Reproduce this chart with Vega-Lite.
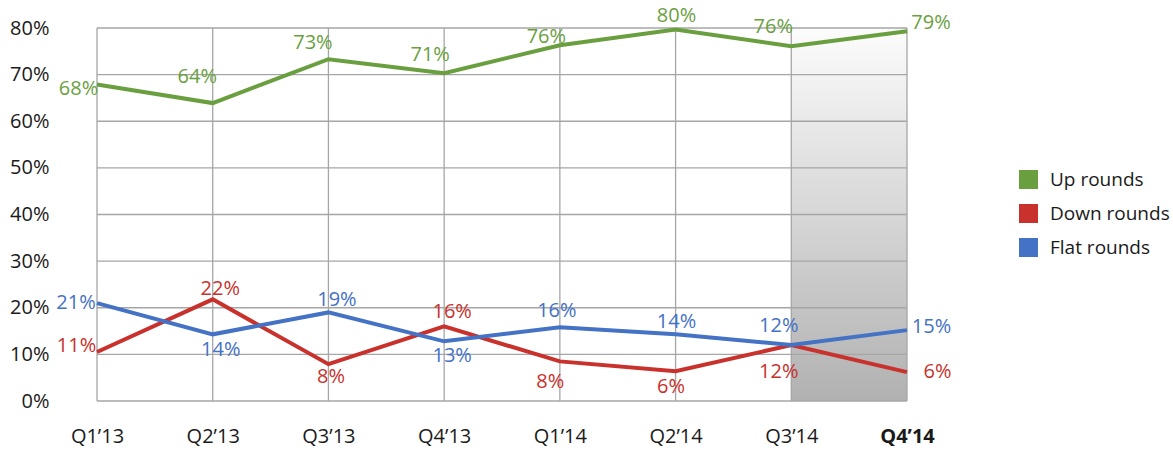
{
  "$schema": "https://vega.github.io/schema/vega-lite/v6.json",
  "width": 810,
  "height": 373,
  "autosize": "none",
  "padding": {"left": 97, "top": 28, "right": 266, "bottom": 53},
  "background": "white",
  "config": {"view": {"stroke": null}, "font": "Open Sans"},
  "datasets": {
    "main": [
      {"q": "Q1’13", "s": "Up rounds", "v": 67.9, "label": "68%"},
      {"q": "Q2’13", "s": "Up rounds", "v": 63.9, "label": "64%"},
      {"q": "Q3’13", "s": "Up rounds", "v": 73.3, "label": "73%"},
      {"q": "Q4’13", "s": "Up rounds", "v": 70.3, "label": "71%"},
      {"q": "Q1’14", "s": "Up rounds", "v": 76.3, "label": "76%"},
      {"q": "Q2’14", "s": "Up rounds", "v": 79.7, "label": "80%"},
      {"q": "Q3’14", "s": "Up rounds", "v": 76.1, "label": "76%"},
      {"q": "Q4’14", "s": "Up rounds", "v": 79.3, "label": "79%"},
      {"q": "Q1’13", "s": "Down rounds", "v": 10.5, "label": "11%"},
      {"q": "Q2’13", "s": "Down rounds", "v": 21.8, "label": "22%"},
      {"q": "Q3’13", "s": "Down rounds", "v": 7.9, "label": "8%"},
      {"q": "Q4’13", "s": "Down rounds", "v": 16.0, "label": "16%"},
      {"q": "Q1’14", "s": "Down rounds", "v": 8.5, "label": "8%"},
      {"q": "Q2’14", "s": "Down rounds", "v": 6.4, "label": "6%"},
      {"q": "Q3’14", "s": "Down rounds", "v": 12.0, "label": "12%"},
      {"q": "Q4’14", "s": "Down rounds", "v": 6.2, "label": "6%"},
      {"q": "Q1’13", "s": "Flat rounds", "v": 21.0, "label": "21%"},
      {"q": "Q2’13", "s": "Flat rounds", "v": 14.3, "label": "14%"},
      {"q": "Q3’13", "s": "Flat rounds", "v": 19.0, "label": "19%"},
      {"q": "Q4’13", "s": "Flat rounds", "v": 12.8, "label": "13%"},
      {"q": "Q1’14", "s": "Flat rounds", "v": 15.8, "label": "16%"},
      {"q": "Q2’14", "s": "Flat rounds", "v": 14.3, "label": "14%"},
      {"q": "Q3’14", "s": "Flat rounds", "v": 12.0, "label": "12%"},
      {"q": "Q4’14", "s": "Flat rounds", "v": 15.2, "label": "15%"}
    ],
    "yt": [{"t": 0}, {"t": 10}, {"t": 20}, {"t": 30}, {"t": 40}, {"t": 50}, {"t": 60}, {"t": 70}, {"t": 80}],
    "band": [{"a": "Q3’14", "b": "Q4’14"}]
  },
  "layer": [
    {
      "data": {"name": "band"},
      "mark": {"type": "rect", "color": {"gradient": "linear", "x1": 0, "y1": 0, "x2": 0, "y2": 1, "stops": [{"offset": 0, "color": "#fcfcfc"}, {"offset": 1, "color": "#b1b1b2"}]}},
      "encoding": {
        "x": {"field": "a", "type": "ordinal", "scale": {"type": "point", "padding": 0, "domain": ["Q1’13", "Q2’13", "Q3’13", "Q4’13", "Q1’14", "Q2’14", "Q3’14", "Q4’14"]},
          "axis": {"title": null, "domain": false, "ticks": false, "grid": false, "labelAngle": 0, "labelFontSize": 20, "labelColor": "#1a1a1a", "labelPadding": 25,
            "labelFontWeight": {"condition": {"test": "datum.value === 'Q4’14'", "value": "bold"}, "value": "normal"}}},
        "x2": {"field": "b"},
        "y": {"datum": 0, "type": "quantitative", "scale": {"domain": [0, 80], "nice": false},
          "axis": {"title": null, "values": [0, 10, 20, 30, 40, 50, 60, 70, 80], "domain": false, "ticks": false, "grid": false, "labelExpr": "datum.value + '%'", "labelFontSize": 20, "labelColor": "#1a1a1a", "labelPadding": 48}},
        "y2": {"datum": 80}
      }
    },
    {
      "data": {"name": "yt"},
      "mark": {"type": "rule", "color": "#a6a6a6", "strokeWidth": 1.3},
      "encoding": {
        "y": {"field": "t", "type": "quantitative", "scale": {"domain": [0, 80], "nice": false}}
      }
    },
    {
      "data": {"name": "main"},
      "transform": [{"filter": "datum.s == 'Up rounds'"}],
      "mark": {"type": "rule", "color": "#a6a6a6", "strokeWidth": 1.3},
      "encoding": {
        "x": {"field": "q", "type": "ordinal", "scale": {"type": "point", "padding": 0, "domain": ["Q1’13", "Q2’13", "Q3’13", "Q4’13", "Q1’14", "Q2’14", "Q3’14", "Q4’14"]}}
      }
    },
    {
      "data": {"name": "main"},
      "mark": {"type": "line", "strokeWidth": 4},
      "encoding": {
        "x": {"field": "q", "type": "ordinal", "scale": {"type": "point", "padding": 0, "domain": ["Q1’13", "Q2’13", "Q3’13", "Q4’13", "Q1’14", "Q2’14", "Q3’14", "Q4’14"]}},
        "y": {"field": "v", "type": "quantitative", "scale": {"domain": [0, 80], "nice": false}},
        "color": {"field": "s", "type": "nominal",
          "scale": {"domain": ["Up rounds", "Down rounds", "Flat rounds"], "range": ["#6a9f3f", "#c8312c", "#4472c4"]},
          "legend": {"title": null, "orient": "none", "legendX": 922, "legendY": 142, "padding": 0, "symbolType": "square", "symbolSize": 361, "symbolStrokeWidth": 0,
            "labelFontSize": 19, "labelColor": "#1a1a1a", "labelOffset": 12, "rowPadding": 14,
            "encode": {"symbols": {"update": {"fill": {"scale": "color", "field": "value"}, "fillOpacity": {"value": 1}, "stroke": {"value": "transparent"}}}}}}
      }
    },
    {
      "data": {"name": "main"},
      "encoding": {
        "x": {"field": "q", "type": "ordinal", "scale": {"type": "point", "padding": 0, "domain": ["Q1’13", "Q2’13", "Q3’13", "Q4’13", "Q1’14", "Q2’14", "Q3’14", "Q4’14"]}},
        "y": {"field": "v", "type": "quantitative", "scale": {"domain": [0, 80], "nice": false}},
        "text": {"field": "label"}
      },
      "layer": [
        {"transform": [{"filter": "datum.s=='Up rounds' && datum.q=='Q1’13'"}], "mark": {"type": "text", "fontSize": 20, "color": "#6a9f3f", "dx": -18.5, "dy": 4.5}},
        {"transform": [{"filter": "datum.s=='Up rounds' && datum.q=='Q2’13'"}], "mark": {"type": "text", "fontSize": 20, "color": "#6a9f3f", "dx": -15.5, "dy": -26.5}},
        {"transform": [{"filter": "datum.s=='Up rounds' && datum.q=='Q3’13'"}], "mark": {"type": "text", "fontSize": 20, "color": "#6a9f3f", "dx": -15.5, "dy": -16.5}},
        {"transform": [{"filter": "datum.s=='Up rounds' && datum.q=='Q4’13'"}], "mark": {"type": "text", "fontSize": 20, "color": "#6a9f3f", "dx": -14, "dy": -18}},
        {"transform": [{"filter": "datum.s=='Up rounds' && datum.q=='Q1’14'"}], "mark": {"type": "text", "fontSize": 20, "color": "#6a9f3f", "dx": -13.5, "dy": -8.5}},
        {"transform": [{"filter": "datum.s=='Up rounds' && datum.q=='Q2’14'"}], "mark": {"type": "text", "fontSize": 20, "color": "#6a9f3f", "dx": 1, "dy": -13.5}},
        {"transform": [{"filter": "datum.s=='Up rounds' && datum.q=='Q3’14'"}], "mark": {"type": "text", "fontSize": 20, "color": "#6a9f3f", "dx": -18, "dy": -18.7}},
        {"transform": [{"filter": "datum.s=='Up rounds' && datum.q=='Q4’14'"}], "mark": {"type": "text", "fontSize": 20, "color": "#6a9f3f", "dx": 24, "dy": -8.5}},
        {"transform": [{"filter": "datum.s=='Down rounds' && datum.q=='Q1’13'"}], "mark": {"type": "text", "fontSize": 20, "color": "#c8312c", "dx": -20.5, "dy": -6}},
        {"transform": [{"filter": "datum.s=='Down rounds' && datum.q=='Q2’13'"}], "mark": {"type": "text", "fontSize": 20, "color": "#c8312c", "dx": 7.5, "dy": -10}},
        {"transform": [{"filter": "datum.s=='Down rounds' && datum.q=='Q3’13'"}], "mark": {"type": "text", "fontSize": 20, "color": "#c8312c", "dx": 2.5, "dy": 13}},
        {"transform": [{"filter": "datum.s=='Down rounds' && datum.q=='Q4’13'"}], "mark": {"type": "text", "fontSize": 20, "color": "#c8312c", "dx": 8, "dy": -14}},
        {"transform": [{"filter": "datum.s=='Down rounds' && datum.q=='Q1’14'"}], "mark": {"type": "text", "fontSize": 20, "color": "#c8312c", "dx": -9.5, "dy": 21}},
        {"transform": [{"filter": "datum.s=='Down rounds' && datum.q=='Q2’14'"}], "mark": {"type": "text", "fontSize": 20, "color": "#c8312c", "dx": -4.5, "dy": 16}},
        {"transform": [{"filter": "datum.s=='Down rounds' && datum.q=='Q3’14'"}], "mark": {"type": "text", "fontSize": 20, "color": "#c8312c", "dx": -12.5, "dy": 27}},
        {"transform": [{"filter": "datum.s=='Down rounds' && datum.q=='Q4’14'"}], "mark": {"type": "text", "fontSize": 20, "color": "#c8312c", "dx": 30.5, "dy": 0}},
        {"transform": [{"filter": "datum.s=='Flat rounds' && datum.q=='Q1’13'"}], "mark": {"type": "text", "fontSize": 20, "color": "#4472c4", "dx": -21, "dy": 0}},
        {"transform": [{"filter": "datum.s=='Flat rounds' && datum.q=='Q2’13'"}], "mark": {"type": "text", "fontSize": 20, "color": "#4472c4", "dx": 8, "dy": 16}},
        {"transform": [{"filter": "datum.s=='Flat rounds' && datum.q=='Q3’13'"}], "mark": {"type": "text", "fontSize": 20, "color": "#4472c4", "dx": 8.5, "dy": -12}},
        {"transform": [{"filter": "datum.s=='Flat rounds' && datum.q=='Q4’13'"}], "mark": {"type": "text", "fontSize": 20, "color": "#4472c4", "dx": 8, "dy": 15}},
        {"transform": [{"filter": "datum.s=='Flat rounds' && datum.q=='Q1’14'"}], "mark": {"type": "text", "fontSize": 20, "color": "#4472c4", "dx": -3, "dy": -16}},
        {"transform": [{"filter": "datum.s=='Flat rounds' && datum.q=='Q2’14'"}], "mark": {"type": "text", "fontSize": 20, "color": "#4472c4", "dx": 1, "dy": -12}},
        {"transform": [{"filter": "datum.s=='Flat rounds' && datum.q=='Q3’14'"}], "mark": {"type": "text", "fontSize": 20, "color": "#4472c4", "dx": -12.5, "dy": -19}},
        {"transform": [{"filter": "datum.s=='Flat rounds' && datum.q=='Q4’14'"}], "mark": {"type": "text", "fontSize": 20, "color": "#4472c4", "dx": 24.5, "dy": -3}}
      ]
    }
  ]
}
